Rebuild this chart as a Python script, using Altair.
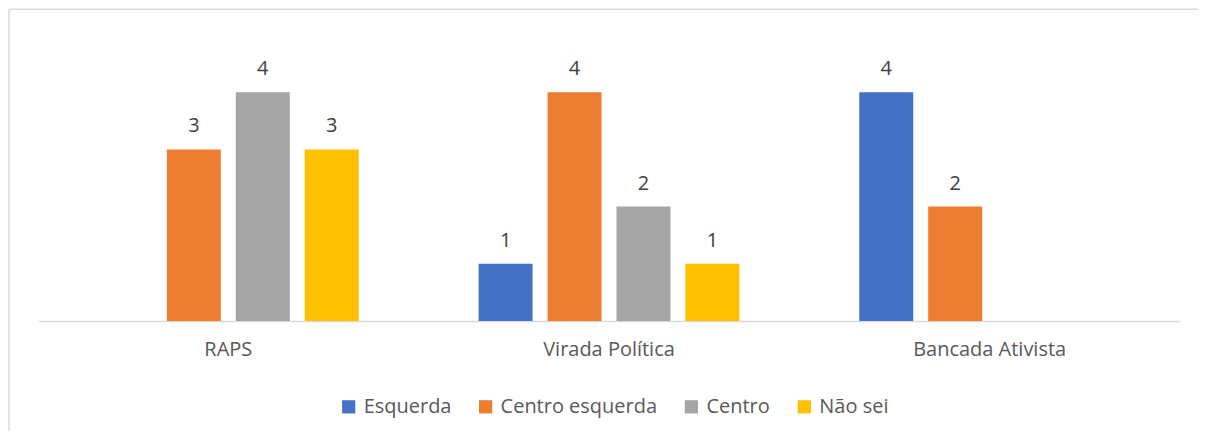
import altair as alt
import pandas as pd

groups = ["RAPS", "Virada Política", "Bancada Ativista"]
series = ["Esquerda", "Centro esquerda", "Centro", "Não sei"]
colors = ["#4472C4", "#ED7D31", "#A5A5A5", "#FFC000"]

esquerda = [None, 1, 4]
centro_esquerda = [3, 4, 2]
centro = [4, 2, None]
nao_sei = [3, 1, None]

values = [esquerda, centro_esquerda, centro, nao_sei]
rows = []
for s, vals in zip(series, values):
    for g, v in zip(groups, vals):
        if v is not None:
            rows.append({"grupo": g, "serie": s, "valor": v})
df = pd.DataFrame(rows)

FONT = "Open Sans"

x_enc = alt.X("grupo:N", sort=groups, title=None,
              scale=alt.Scale(paddingInner=0.315, paddingOuter=0.1575),
              axis=alt.Axis(labelAngle=0, ticks=False, domainColor="#d9d9d9",
                            domainWidth=1.5, labelFontSize=20, labelColor="#595959",
                            labelFont=FONT, labelPadding=19))
xo_enc = alt.XOffset("serie:N", sort=series,
                     scale=alt.Scale(domain=series, paddingInner=0.217, paddingOuter=0))
y_enc = alt.Y("valor:Q", scale=alt.Scale(domain=[0, 5]), axis=None)

base = alt.Chart(df)

bars = base.mark_bar().encode(
    x=x_enc, xOffset=xo_enc, y=y_enc,
    color=alt.Color("serie:N", sort=series,
                    scale=alt.Scale(domain=series, range=colors),
                    legend=alt.Legend(title=None, orient="none", direction="horizontal",
                                      legendX=301, legendY=362, symbolType="square",
                                      symbolSize=175, symbolStrokeWidth=0,
                                      labelFontSize=20, labelColor="#595959",
                                      labelFont=FONT, columnPadding=24, labelOffset=5,
                                      columns=4)),
)

labels = base.mark_text(baseline="alphabetic", dy=-17, fontSize=20,
                        color="#404040", font=FONT).encode(
    x=x_enc, xOffset=xo_enc, y=y_enc, text=alt.Text("valor:Q"))

frame_df = pd.DataFrame({"k": [0]})
left_line = alt.Chart(frame_df).mark_rule(color="#d9d9d9", strokeWidth=1.5).encode(
    x=alt.value(-29), y=alt.value(-26), y2=alt.value(396))
top_line = alt.Chart(frame_df).mark_rule(color="#d9d9d9", strokeWidth=1.5).encode(
    x=alt.value(-29), x2=alt.value(1161), y=alt.value(-26))

chart = alt.layer(bars, labels, left_line, top_line).properties(
    width=1143, height=286, padding=0
).configure_view(stroke=None)

chart.save("out.html", embed_options={"renderer": "svg", "actions": False})
